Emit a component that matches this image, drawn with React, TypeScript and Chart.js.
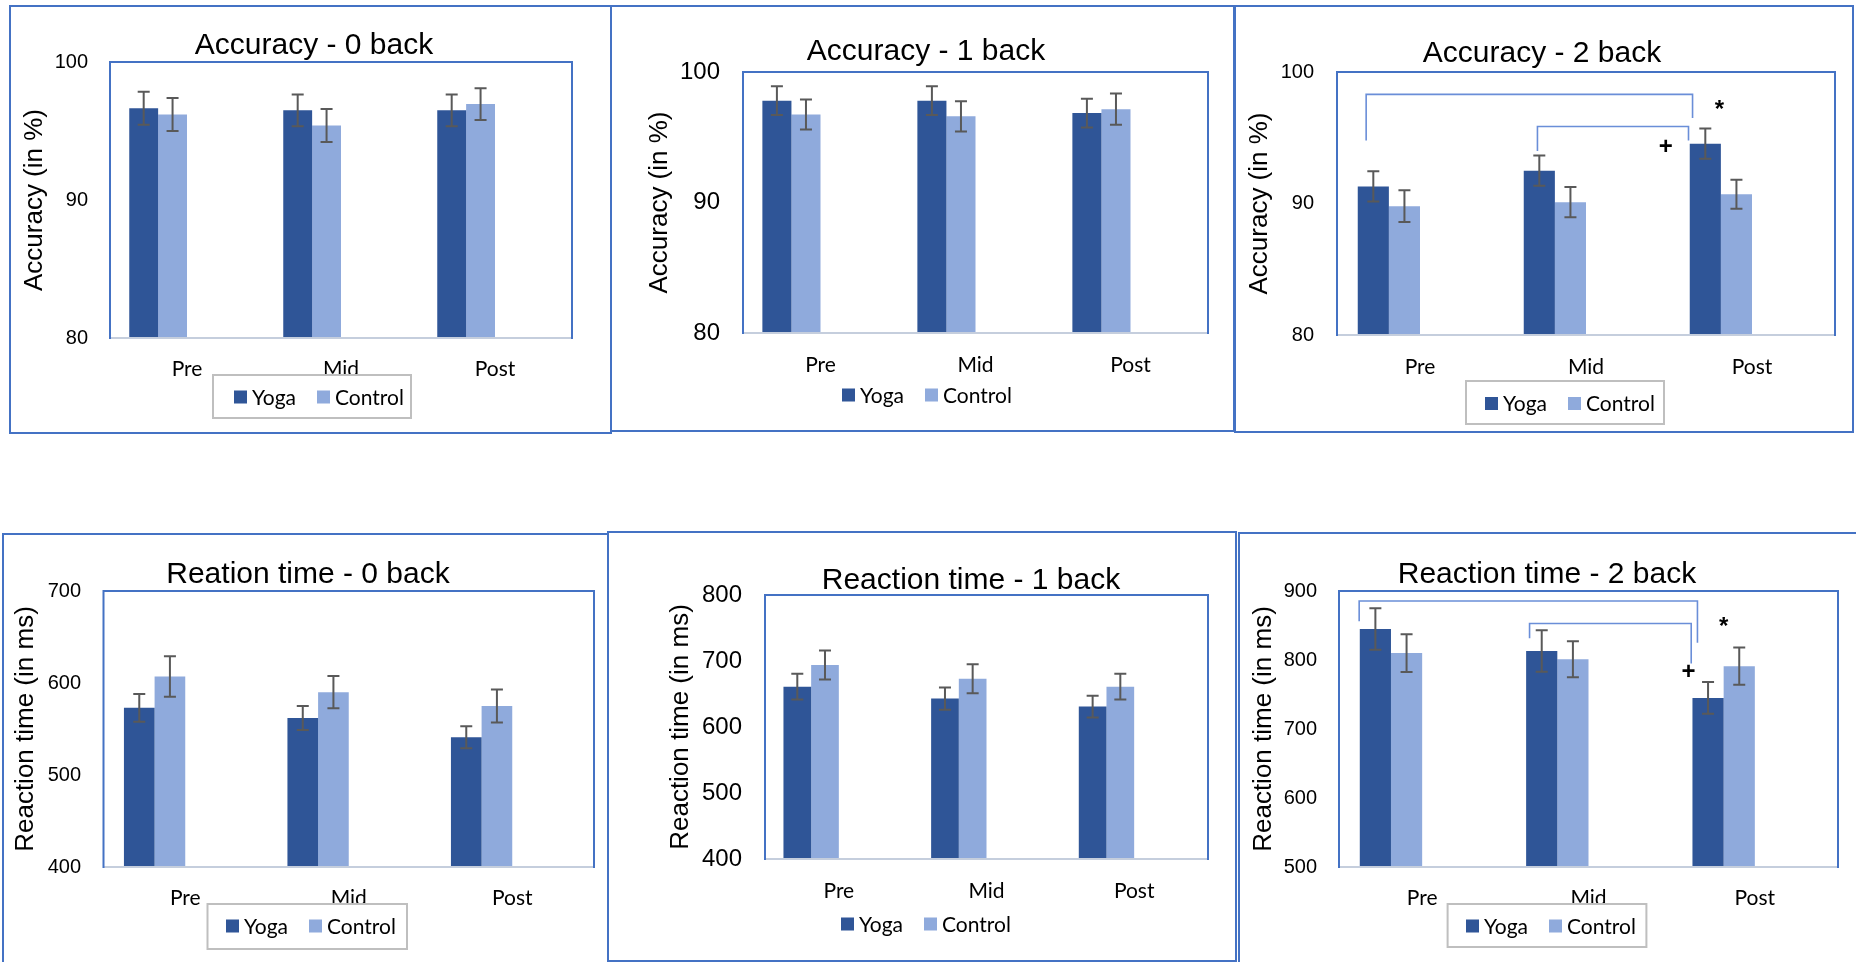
import React, { useEffect, useRef } from 'react';
import { Chart, registerables } from 'chart.js';

Chart.register(...registerables);

// ---------- data ----------
const categories = ['Pre', 'Mid', 'Post'];
const seriesNames = ['Yoga', 'Control'];

const acc0Yoga = [96.65, 96.5, 96.5];
const acc0Control = [96.2, 95.4, 96.95];
const acc0YogaErr = [1.2, 1.15, 1.15];
const acc0ControlErr = [1.2, 1.2, 1.15];

const acc1Yoga = [97.8, 97.8, 96.85];
const acc1Control = [96.75, 96.6, 97.15];
const acc1YogaErr = [1.1, 1.1, 1.1];
const acc1ControlErr = [1.15, 1.15, 1.2];

const acc2Yoga = [91.3, 92.5, 94.55];
const acc2Control = [89.8, 90.1, 90.7];
const acc2YogaErr = [1.15, 1.15, 1.15];
const acc2ControlErr = [1.2, 1.15, 1.1];

const rt0Yoga = [573, 562, 541];
const rt0Control = [607, 590, 575];
const rt0YogaErr = [15, 13, 12];
const rt0ControlErr = [22, 17.5, 18];

const rt1Yoga = [661, 643, 631];
const rt1Control = [694, 673, 661];
const rt1YogaErr = [19.5, 17, 16.5];
const rt1ControlErr = [22, 22, 19.5];

const rt2Yoga = [845, 813, 745];
const rt2Control = [810, 801, 791];
const rt2YogaErr = [30, 30, 23];
const rt2ControlErr = [27.5, 26, 27];

// significance brackets (category index, offset in bar widths from yoga bar centre, values in data units)
const acc2Brackets = [
  { from: 0, fromDx: -0.23, fromY: 94.8, to: 2, toDx: -0.41, toY: 96.5, top: 98.3 },
  { from: 1, fromDx: -0.06, fromY: 94.0, to: 2, toDx: -0.54, toY: 94.8, top: 95.85 },
];
const acc2Marks = [
  { text: '*', at: 2, dx: 0.45, y: 97.6 },
  { text: '+', at: 2, dx: -1.27, y: 94.4 },
];
const rt2Brackets = [
  { from: 0, fromDx: -0.52, fromY: 856, to: 2, toDx: -0.34, toY: 825, top: 885.5 },
  { from: 1, fromDx: -0.39, fromY: 831.5, to: 2, toDx: -0.54, toY: 795, top: 853 },
];
const rt2Marks = [
  { text: '*', at: 2, dx: 0.5, y: 858 },
  { text: '+', at: 2, dx: -0.63, y: 784.5 },
];

// ---------- layout / style ----------
const YOGA_COLOR = '#2F5597';
const CONTROL_COLOR = '#8FAADC';
const FRAME = '#4472C4';
const SANS = '"Liberation Sans", Arial, sans-serif';
const CAL = 'Lato, "Open Sans", sans-serif';
const CAL_SIZE = 21;

type Panel = any;

const panels: Panel[] = [
  {
    key: 'acc0', title: 'Accuracy - 0 back', yTitle: 'Accuracy (in %)', yMin: 80, yMax: 100, yStep: 10,
    yoga: acc0Yoga, control: acc0Control, yogaErr: acc0YogaErr, controlErr: acc0ControlErr,
    box: { l: 9, t: 5, w: 603, h: 429 }, plot: { l: 110, t: 62, r: 572, b: 338 },
    titleX: 314, titleBase: 53.5, tickSize: 20, tickRight: 88, yTitleX: 35.3, xLabelY: 369,
    legend: { x: 234, y: 397, box: { l: 213, t: 375, r: 411, b: 418 } },
  },
  {
    key: 'acc1', title: 'Accuracy - 1 back', yTitle: 'Accuracy (in %)', yMin: 80, yMax: 100, yStep: 10,
    yoga: acc1Yoga, control: acc1Control, yogaErr: acc1YogaErr, controlErr: acc1ControlErr,
    box: { l: 610, t: 5, w: 625, h: 427 }, plot: { l: 743, t: 72, r: 1208, b: 333 },
    titleX: 926, titleBase: 60, tickSize: 24, tickRight: 720, yTitleX: 660, xLabelY: 365,
    legend: { x: 842, y: 395, box: null },
  },
  {
    key: 'acc2', title: 'Accuracy - 2 back', yTitle: 'Accuracy (in %)', yMin: 80, yMax: 100, yStep: 10,
    yoga: acc2Yoga, control: acc2Control, yogaErr: acc2YogaErr, controlErr: acc2ControlErr,
    box: { l: 1234, t: 5, w: 620, h: 428 }, plot: { l: 1337, t: 72, r: 1835, b: 335 },
    titleX: 1542, titleBase: 61.7, tickSize: 20, tickRight: 1314, yTitleX: 1260, xLabelY: 367,
    legend: { x: 1485, y: 403.5, box: { l: 1466, t: 381, r: 1664, b: 424 } },
    brackets: acc2Brackets, marks: acc2Marks,
  },
  {
    key: 'rt0', title: 'Reation time - 0 back', yTitle: 'Reaction time (in ms)', yMin: 400, yMax: 700, yStep: 100,
    yoga: rt0Yoga, control: rt0Control, yogaErr: rt0YogaErr, controlErr: rt0ControlErr,
    box: { l: 2, t: 533, w: 607, h: 440 }, plot: { l: 103.5, t: 591, r: 594, b: 867 },
    titleX: 308, titleBase: 582.7, tickSize: 20, tickRight: 81, yTitleX: 25.8, xLabelY: 898,
    legend: { x: 226, y: 926, box: { l: 207.5, t: 904, r: 407, b: 949 } },
  },
  {
    key: 'rt1', title: 'Reaction time - 1 back', yTitle: 'Reaction time (in ms)', yMin: 400, yMax: 800, yStep: 100,
    yoga: rt1Yoga, control: rt1Control, yogaErr: rt1YogaErr, controlErr: rt1ControlErr,
    box: { l: 607, t: 531, w: 630, h: 431 }, plot: { l: 765, t: 595, r: 1208, b: 859 },
    titleX: 971, titleBase: 589.3, tickSize: 24, tickRight: 742, yTitleX: 680.5, xLabelY: 891,
    legend: { x: 841, y: 924, box: null },
  },
  {
    key: 'rt2', title: 'Reaction time - 2 back', yTitle: 'Reaction time (in ms)', yMin: 500, yMax: 900, yStep: 100,
    yoga: rt2Yoga, control: rt2Control, yogaErr: rt2YogaErr, controlErr: rt2ControlErr,
    box: { l: 1238, t: 532, w: 640, h: 440 }, plot: { l: 1339, t: 591, r: 1838, b: 867 },
    titleX: 1547, titleBase: 582.7, tickSize: 20, tickRight: 1317, yTitleX: 1263.7, xLabelY: 898,
    legend: { x: 1466, y: 926, box: { l: 1447.6, t: 904, r: 1646.4, b: 947 } },
    brackets: rt2Brackets, marks: rt2Marks,
  },
];

function makeChart(canvas: HTMLCanvasElement, p: Panel) {
  const bx = p.box.l;
  const by = p.box.t;
  const W = p.box.w;
  const H = p.box.h;
  const yTitleSize = 26;

  const decor = {
    id: 'decor_' + p.key,
    afterDatasetsDraw(chart: any) {
      const ctx = chart.ctx as CanvasRenderingContext2D;
      const ys = chart.scales.y;
      const area = chart.chartArea;
      ctx.save();
      // plot frame
      ctx.strokeStyle = FRAME;
      ctx.lineWidth = 2;
      ctx.strokeRect(area.left, area.top, area.right - area.left, area.bottom - area.top);
      ctx.strokeStyle = '#C5CEDD';
      ctx.beginPath();
      ctx.moveTo(area.left + 1, area.bottom);
      ctx.lineTo(area.right - 1, area.bottom);
      ctx.stroke();

      // error bars
      ctx.strokeStyle = '#595959';
      ctx.lineWidth = 2;
      const groups: [number, number[], number[]][] = [
        [0, p.yoga, p.yogaErr],
        [1, p.control, p.controlErr],
      ];
      for (const [di, vals, errs] of groups) {
        const meta = chart.getDatasetMeta(di);
        meta.data.forEach((bar: any, i: number) => {
          const x = bar.x;
          const y1 = ys.getPixelForValue(vals[i] + errs[i]);
          const y2 = ys.getPixelForValue(vals[i] - errs[i]);
          ctx.beginPath();
          ctx.moveTo(x, y1);
          ctx.lineTo(x, y2);
          ctx.moveTo(x - 6, y1);
          ctx.lineTo(x + 6, y1);
          ctx.moveTo(x - 6, y2);
          ctx.lineTo(x + 6, y2);
          ctx.stroke();
        });
      }

      // brackets and marks
      const yogaMeta = chart.getDatasetMeta(0);
      const px = (idx: number, dx: number) => {
        const b: any = yogaMeta.data[idx];
        return b.x + dx * b.width;
      };
      if (p.brackets) {
        ctx.strokeStyle = '#6A8ED8';
        ctx.lineWidth = 1.6;
        for (const br of p.brackets) {
          const x1 = px(br.from, br.fromDx);
          const x2 = px(br.to, br.toDx);
          ctx.beginPath();
          ctx.moveTo(x1, ys.getPixelForValue(br.fromY));
          ctx.lineTo(x1, ys.getPixelForValue(br.top));
          ctx.lineTo(x2, ys.getPixelForValue(br.top));
          ctx.lineTo(x2, ys.getPixelForValue(br.toY));
          ctx.stroke();
        }
      }
      if (p.marks) {
        ctx.fillStyle = '#000';
        ctx.font = 'bold 24px ' + SANS;
        ctx.textAlign = 'center';
        ctx.textBaseline = 'alphabetic';
        for (const m of p.marks) {
          const off = m.text === '*' ? 0.57 * 24 : 0.35 * 24;
          ctx.fillText(m.text, px(m.at, m.dx), ys.getPixelForValue(m.y) + off);
        }
      }
      ctx.restore();
    },
    afterDraw(chart: any) {
      const ctx = chart.ctx as CanvasRenderingContext2D;
      ctx.save();
      // title
      ctx.fillStyle = '#000';
      ctx.font = '30px ' + SANS;
      ctx.textAlign = 'center';
      ctx.textBaseline = 'alphabetic';
      ctx.fillText(p.title, p.titleX - bx, p.titleBase - by);

      // legend
      const L = p.legend;
      if (L.box) {
        ctx.strokeStyle = '#BFBFBF';
        ctx.lineWidth = 2;
        ctx.strokeRect(L.box.l - bx, L.box.t - by, L.box.r - L.box.l, L.box.b - L.box.t);
      }
      const colors = [YOGA_COLOR, CONTROL_COLOR];
      ctx.font = CAL_SIZE + 'px ' + CAL;
      ctx.textAlign = 'left';
      ctx.textBaseline = 'middle';
      seriesNames.forEach((name, i) => {
        const x = L.x - bx + i * 83;
        const y = L.y - by;
        ctx.fillStyle = colors[i];
        ctx.fillRect(x, y - 6.5, 13, 13);
        ctx.fillStyle = '#000';
        ctx.fillText(name, x + 18, y + 1);
      });
      ctx.restore();
    },
  };

  const spacer = categories.map(() => null);

  return new Chart(canvas, {
    type: 'bar',
    data: {
      labels: categories,
      datasets: [
        { label: seriesNames[0], data: p.yoga, backgroundColor: YOGA_COLOR, borderWidth: 0 },
        { label: seriesNames[1], data: p.control, backgroundColor: CONTROL_COLOR, borderWidth: 0 },
        { label: '', data: spacer as any, backgroundColor: 'rgba(0,0,0,0)', borderWidth: 0 },
        { label: '', data: spacer as any, backgroundColor: 'rgba(0,0,0,0)', borderWidth: 0 },
      ],
    },
    options: {
      responsive: false,
      animation: false,
      devicePixelRatio: 1,
      events: [],
      datasets: { bar: { barPercentage: 1, categoryPercentage: 0.75 } },
      layout: {
        padding: { left: 0, top: p.plot.t - by, right: bx + W - p.plot.r, bottom: 0 },
      },
      plugins: {
        legend: { display: false },
        title: { display: false },
        tooltip: { enabled: false },
      },
      scales: {
        x: {
          grid: { display: false, drawTicks: false },
          border: { display: false },
          ticks: {
            font: { family: CAL, size: CAL_SIZE },
            color: '#000',
            padding: p.xLabelY - p.plot.b - CAL_SIZE * 0.6,
            maxRotation: 0,
            autoSkip: false,
          },
          afterFit: (s: any) => {
            s.height = by + H - p.plot.b;
          },
        },
        y: {
          min: p.yMin,
          max: p.yMax,
          grid: { display: false, drawTicks: false },
          border: { display: false },
          ticks: {
            stepSize: p.yStep,
            font: { family: SANS, size: p.tickSize },
            color: '#000',
            padding: p.plot.l - p.tickRight,
          },
          title: {
            display: true,
            text: p.yTitle,
            color: '#000',
            font: { family: SANS, size: yTitleSize },
            padding: { top: p.yTitleX - bx - yTitleSize * 0.6, bottom: 0 },
          },
          afterFit: (s: any) => {
            s.width = p.plot.l - bx;
          },
        },
      },
    } as any,
    plugins: [decor as any],
  });
}

export default function App() {
  const refs = useRef<(HTMLCanvasElement | null)[]>([]);

  useEffect(() => {
    const charts = panels.map((p, i) => makeChart(refs.current[i] as HTMLCanvasElement, p));
    return () => {
      charts.forEach((c) => c.destroy());
    };
  }, []);

  return (
    <div
      style={{
        position: 'fixed',
        left: 0,
        top: 0,
        width: 1856,
        height: 962,
        overflow: 'hidden',
        background: '#fff',
      }}
    >
      {panels.map((p, i) => (
        <React.Fragment key={p.key}>
          <canvas
            ref={(el) => {
              refs.current[i] = el;
            }}
            width={p.box.w}
            height={p.box.h}
            style={{
              position: 'absolute',
              left: p.box.l,
              top: p.box.t,
              width: p.box.w,
              height: p.box.h,
            }}
          />
          <div
            style={{
              position: 'absolute',
              left: p.box.l,
              top: p.box.t,
              width: p.box.w,
              height: p.box.h,
              border: '2px solid ' + FRAME,
              boxSizing: 'border-box',
              pointerEvents: 'none',
            }}
          />
        </React.Fragment>
      ))}
    </div>
  );
}
